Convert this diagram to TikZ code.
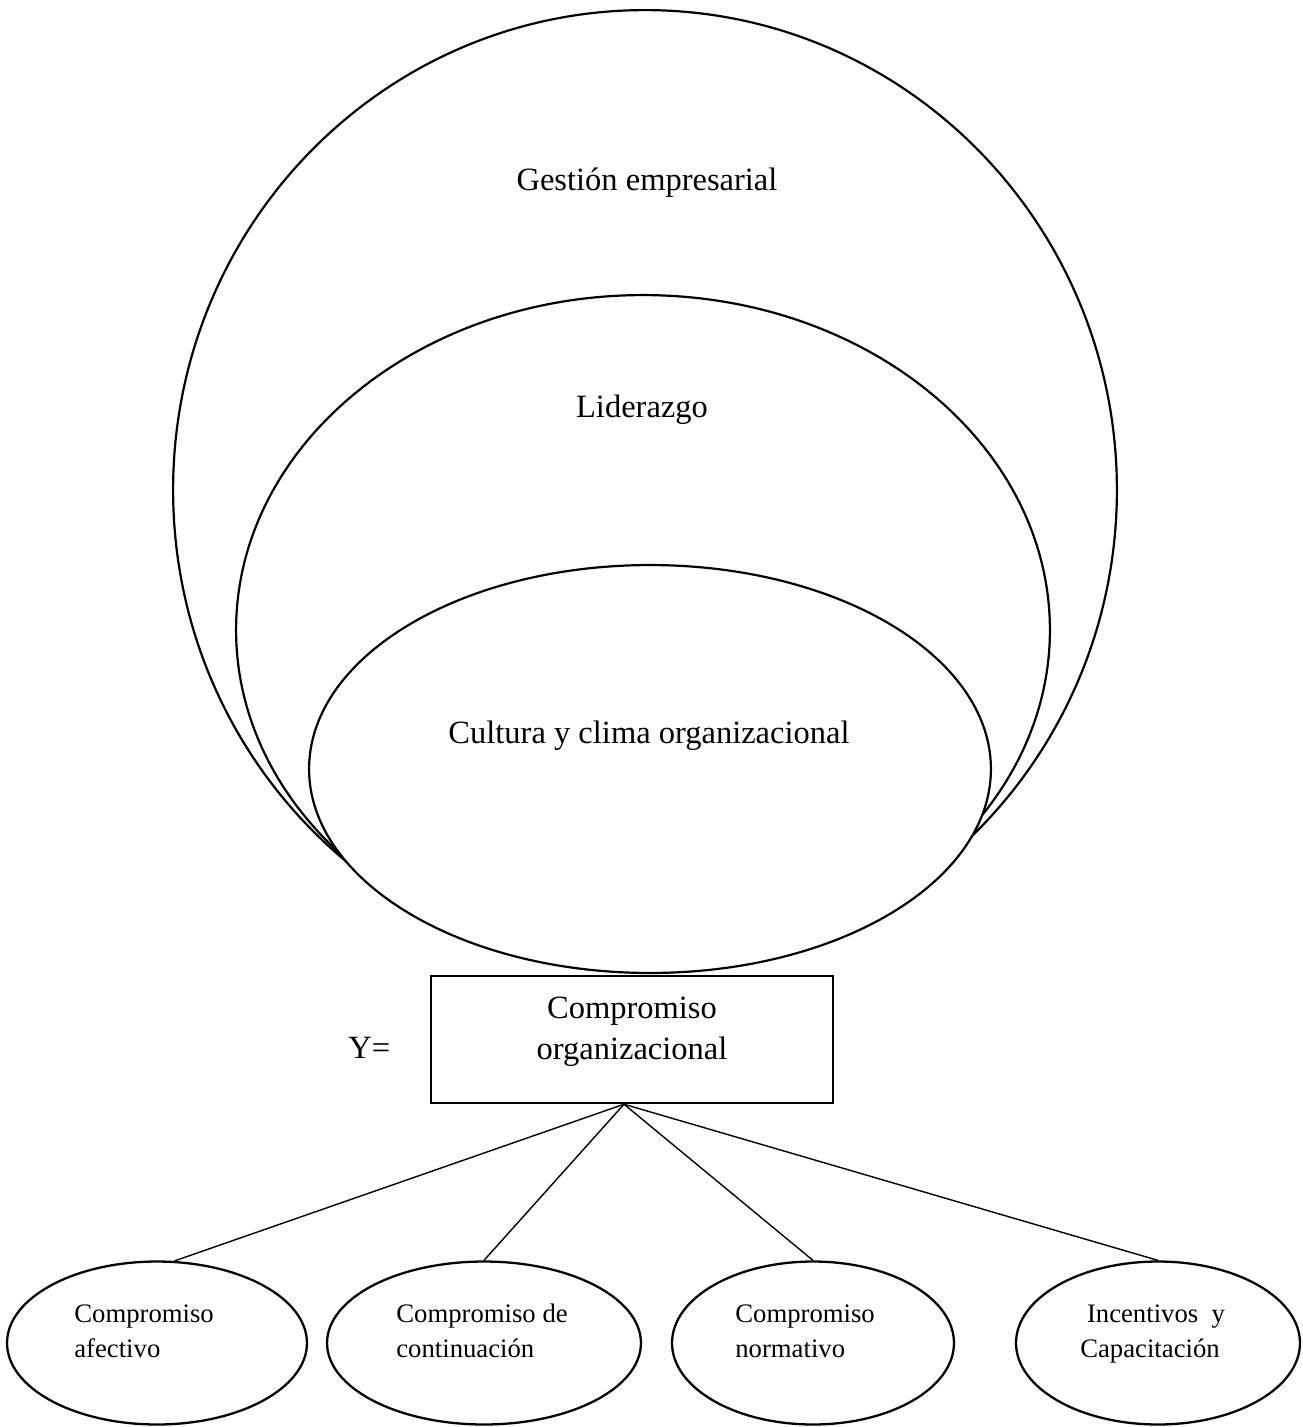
\documentclass[tikz,border=0pt]{standalone}
\usepackage{fontspec}
\setmainfont{Liberation Serif}
\usetikzlibrary{shapes.geometric}
\begin{document}
\begin{tikzpicture}[x=0.02cm, y=-0.02cm,
  bigshape/.style={draw, ellipse, line width=1.25pt, fill=white, inner sep=0pt},
  subell/.style={draw, ellipse, line width=1.3pt, inner sep=0pt, minimum height=3.26cm},
  mainlbl/.style={font=\fontsize{18.5}{24}\selectfont, inner sep=0pt, anchor=base},
  sublbl/.style={font=\fontsize{15.2}{19.9}\selectfont, inner sep=0pt},
  conn/.style={line width=0.8pt}]
\useasboundingbox (0,0) rectangle (1302,1427);
% nested shapes
\node[bigshape, minimum width=18.88cm, minimum height=19.2cm] (gest) at (645,490) {};
\node[bigshape, minimum width=16.28cm, minimum height=13.4cm] (lid) at (643,630) {};
\node[bigshape, minimum width=13.64cm, minimum height=8.16cm] (cult) at (650,769) {};
\node[mainlbl] (tg) at (647,190) {Gestión empresarial};
\node[mainlbl] (tl) at (642,417) {Liderazgo};
\node[mainlbl] (tc) at (649,743) {Cultura y clima organizacional};
% box
\node[draw, line width=1.4pt, minimum width=8.04cm, minimum height=2.54cm, inner sep=0pt] (box) at (632,1039.5) {};
\node[mainlbl] (bt1) at (632,1018) {Compromiso};
\node[mainlbl] (bt2) at (632,1059) {organizacional};
\node[mainlbl, anchor=base west] (yeq) at (348,1058) {Y=};
% bottom ellipses
\node[subell, minimum width=6.0cm] (e1) at (157,1343) {};
\node[subell, minimum width=6.28cm] (e2) at (484,1343) {};
\node[subell, minimum width=5.64cm] (e3) at (813,1343) {};
\node[subell, minimum width=5.68cm] (e4) at (1158,1343) {};
\node[sublbl, anchor=base west] (t1a) at (74,1322) {Compromiso};
\node[sublbl, anchor=base west] (t1b) at (74,1357) {afectivo};
\node[sublbl, anchor=base west] (t2a) at (396,1322) {Compromiso de};
\node[sublbl, anchor=base west] (t2b) at (396,1357) {continuación};
\node[sublbl, anchor=base west] (t3a) at (735,1322) {Compromiso};
\node[sublbl, anchor=base west] (t3b) at (735,1357) {normativo};
\node[sublbl, anchor=base] (t4a) at (1156,1322) {Incentivos\ \ y};
\node[sublbl, anchor=base] (t4b) at (1150,1357) {Capacitación};
% connectors
\coordinate (hub) at ([xshift=-0.16cm]box.south);
\draw[conn] (hub) -- (e1.78);
\draw[conn] (hub) -- (e2.north);
\draw[conn] (hub) -- (e3.north);
\draw[conn] (hub) -- (e4.north);
\end{tikzpicture}
\end{document}
